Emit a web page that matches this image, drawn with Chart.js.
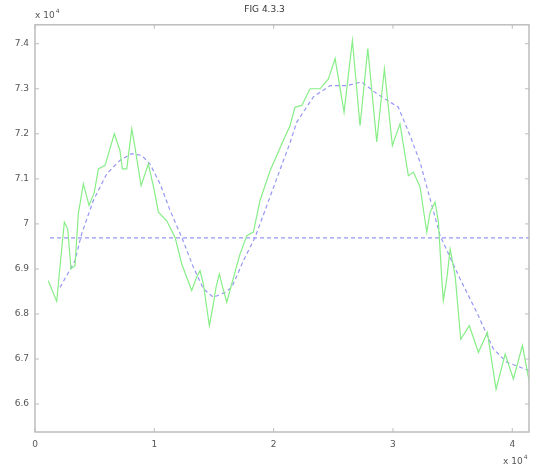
<!DOCTYPE html>
<html>
<head>
<meta charset="utf-8">
<script src="https://cdn.jsdelivr.net/npm/chart.js@4/dist/chart.umd.min.js"></script>
<style>
html,body{margin:0;padding:0;background:#fff;}
#wrap{width:540px;height:465px;position:relative;}
</style>
</head>
<body>
<div id="wrap"><canvas id="c" width="540" height="465"></canvas></div>
<script>
// Raw (noisy) series, x in units of 10^4, y in units of 10^4
const rawX = [0.111,0.182,0.210,0.246,0.274,0.302,0.335,0.363,0.405,0.453,0.497,0.531,0.587,0.665,0.712,0.732,0.769,0.811,0.838,0.889,0.950,1.000,1.034,1.104,1.174,1.230,1.313,1.355,1.383,1.411,1.439,1.461,1.490,1.517,1.545,1.573,1.607,1.649,1.718,1.775,1.830,1.886,1.970,2.026,2.081,2.137,2.179,2.236,2.305,2.389,2.459,2.515,2.590,2.660,2.724,2.789,2.864,2.928,2.995,3.059,3.129,3.171,3.227,3.283,3.311,3.353,3.381,3.409,3.422,3.451,3.479,3.521,3.568,3.640,3.716,3.791,3.864,3.940,4.009,4.085,4.143];
const rawY = [6.874,6.828,6.907,7.004,6.989,6.900,6.907,7.022,7.089,7.041,7.070,7.122,7.130,7.200,7.163,7.122,7.122,7.211,7.170,7.085,7.133,7.074,7.026,7.007,6.970,6.911,6.852,6.882,6.896,6.867,6.815,6.774,6.815,6.859,6.889,6.859,6.826,6.867,6.933,6.974,6.982,7.052,7.118,7.152,7.185,7.218,7.259,7.263,7.300,7.300,7.322,7.367,7.248,7.407,7.218,7.389,7.182,7.344,7.174,7.222,7.107,7.115,7.082,6.982,7.026,7.048,7.004,6.878,6.830,6.878,6.944,6.885,6.744,6.774,6.715,6.759,6.633,6.711,6.656,6.730,6.648];
// Smoothed series
const smoothX = [0.210,0.335,0.391,0.489,0.601,0.712,0.811,0.894,0.964,1.048,1.132,1.230,1.327,1.411,1.495,1.593,1.649,1.746,1.844,1.942,2.039,2.137,2.194,2.333,2.473,2.613,2.738,2.864,3.045,3.143,3.227,3.395,3.562,3.702,3.842,3.954,4.143];
const smoothY = [6.859,6.918,6.978,7.052,7.111,7.141,7.156,7.152,7.133,7.089,7.030,6.970,6.904,6.856,6.837,6.848,6.859,6.918,6.970,7.040,7.110,7.180,7.226,7.282,7.307,7.307,7.315,7.289,7.259,7.196,7.137,6.974,6.878,6.804,6.722,6.693,6.674];
// Mean line
const meanX = [0.126, 4.143];
const meanY = [6.969, 6.969];
// Axis ticks
const xTicks = [0,1,2,3,4];
const yTicks = [6.6,6.7,6.8,6.9,7.0,7.1,7.2,7.3,7.4];
const titleText = 'FIG 4.3.3';
const yExpText = 'x 10';
const xExpText = 'x 10';
const expSup = '4';

const pts = (xs, ys) => xs.map((x,i)=>({x:x, y:ys[i]}));

const boxPlugin = {
  id:'box',
  afterDraw(chart){
    const ctx = chart.ctx, a = chart.chartArea;
    const xs = chart.scales.x, ys = chart.scales.y;
    ctx.save();
    ctx.strokeStyle = '#bdbdbd';
    ctx.lineWidth = 1.5;
    ctx.strokeRect(a.left, a.top, a.right-a.left, a.bottom-a.top);
    ctx.lineWidth = 1;
    const tl = 4;
    xTicks.forEach(v=>{
      const p = xs.getPixelForValue(v);
      ctx.beginPath();
      ctx.moveTo(p, a.bottom); ctx.lineTo(p, a.bottom-tl);
      ctx.moveTo(p, a.top); ctx.lineTo(p, a.top+tl);
      ctx.stroke();
    });
    yTicks.forEach(v=>{
      const p = ys.getPixelForValue(v);
      ctx.beginPath();
      ctx.moveTo(a.left, p); ctx.lineTo(a.left+tl, p);
      ctx.moveTo(a.right, p); ctx.lineTo(a.right-tl, p);
      ctx.stroke();
    });
    // exponent labels
    ctx.fillStyle = '#555';
    ctx.font = '9px "DejaVu Sans", sans-serif';
    ctx.textBaseline = 'alphabetic';
    ctx.textAlign = 'left';
    ctx.fillText(yExpText, a.left, a.top - 7);
    let w = ctx.measureText(yExpText).width;
    ctx.font = '6px "DejaVu Sans", sans-serif';
    ctx.fillText(expSup, a.left + w + 1, a.top - 12);
    ctx.font = '9px "DejaVu Sans", sans-serif';
    ctx.fillText(xExpText, a.right - 26, a.bottom + 32);
    w = ctx.measureText(xExpText).width;
    ctx.font = '6px "DejaVu Sans", sans-serif';
    ctx.fillText(expSup, a.right - 26 + w + 1, a.bottom + 27);
    ctx.restore();
  }
};

new Chart(document.getElementById('c'), {
  type:'line',
  data:{
    datasets:[
      {data: pts(rawX, rawY), borderColor:'rgb(135,238,135)', borderWidth:1.2, pointRadius:0, tension:0, fill:false},
      {data: pts(smoothX, smoothY), borderColor:'rgb(150,150,245)', borderWidth:1.2, borderDash:[4,3], pointRadius:0, tension:0, fill:false},
      {data: pts(meanX, meanY), borderColor:'rgb(150,150,245)', borderWidth:1.2, borderDash:[4,3], pointRadius:0, tension:0, fill:false}
    ]
  },
  options:{
    responsive:false,
    animation:false,
    devicePixelRatio:1,
    layout:{padding:{top:0,right:11,left:0,bottom:0}},
    plugins:{
      legend:{display:false},
      tooltip:{enabled:false},
      title:{display:true, text:titleText, color:'#333', font:{family:'"DejaVu Sans", sans-serif', size:9, weight:'normal'}, padding:{top:4,bottom:10}}
    },
    scales:{
      x:{type:'linear', min:0, max:4.14,
        afterBuildTicks(ax){ ax.ticks = xTicks.map(v=>({value:v})); },
        afterFit(ax){ ax.height = 33; },
        grid:{display:false, drawTicks:false},
        border:{display:false},
        ticks:{padding:7, color:'#555', font:{family:'"DejaVu Sans", sans-serif', size:9}, callback:v=>String(v), maxRotation:0}
      },
      y:{type:'linear', min:6.538, max:7.442,
        afterBuildTicks(ax){ ax.ticks = yTicks.map(v=>({value:v})); },
        afterFit(ax){ ax.width = 35; },
        grid:{display:false, drawTicks:false},
        border:{display:false},
        ticks:{padding:6, color:'#555', font:{family:'"DejaVu Sans", sans-serif', size:9}, callback:v=>String(Math.round(v*10)/10)}
      }
    }
  },
  plugins:[boxPlugin]
});
</script>
</body>
</html>
